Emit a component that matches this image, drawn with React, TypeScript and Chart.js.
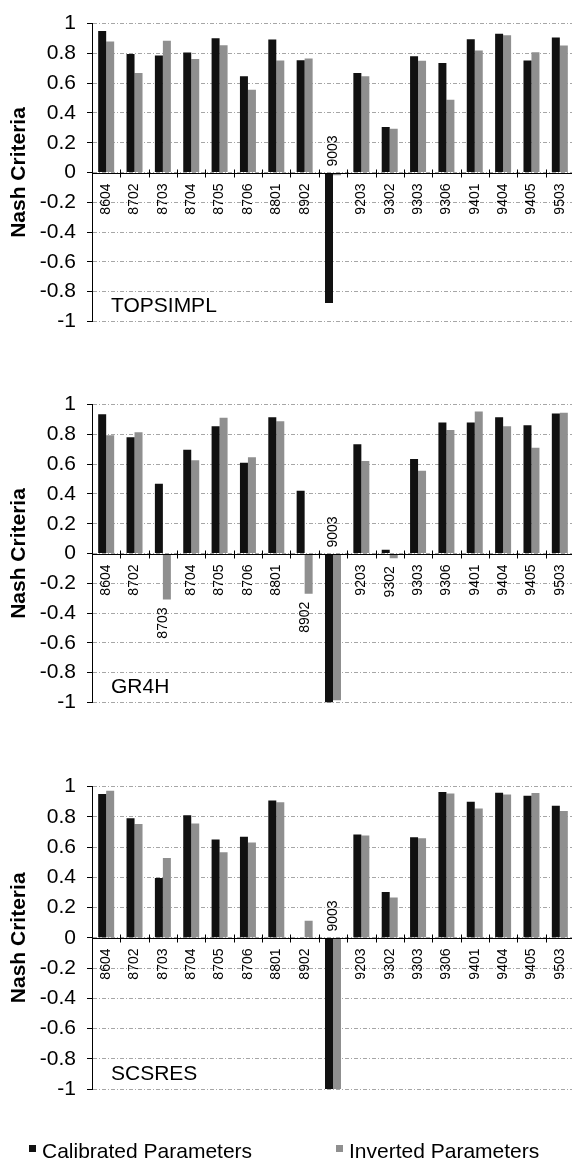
import React, { useEffect, useRef } from "react";
import { Chart, registerables } from "chart.js";

Chart.register(...registerables);

const categories = ["8604", "8702", "8703", "8704", "8705", "8706", "8801", "8902", "9003", "9203", "9302", "9303", "9306", "9401", "9404", "9405", "9503"];

const seriesNames = ["Calibrated Parameters", "Inverted Parameters"];

const topsimplCalibrated = [0.95, 0.795, 0.786, 0.806, 0.902, 0.647, 0.893, 0.754, -0.876, 0.669, 0.306, 0.78, 0.735, 0.895, 0.931, 0.752, 0.906];
const topsimplInverted = [0.88, 0.669, 0.885, 0.763, 0.855, 0.556, 0.752, 0.765, -0.018, 0.647, 0.293, 0.75, 0.489, 0.82, 0.921, 0.808, 0.853];

const gr4hCalibrated = [0.936, 0.781, 0.468, 0.696, 0.855, 0.609, 0.915, 0.421, -1.0, 0.734, 0.025, 0.634, 0.879, 0.879, 0.915, 0.862, 0.94];
const gr4hInverted = [0.794, 0.815, -0.309, 0.626, 0.911, 0.647, 0.889, -0.27, -0.985, 0.621, -0.032, 0.555, 0.83, 0.953, 0.855, 0.711, 0.945];

const scsresCalibrated = [0.951, 0.791, 0.395, 0.81, 0.65, 0.669, 0.908, 0.003, -1.0, 0.684, 0.303, 0.665, 0.964, 0.9, 0.959, 0.94, 0.874];
const scsresInverted = [0.972, 0.752, 0.528, 0.756, 0.566, 0.63, 0.897, 0.113, -1.0, 0.677, 0.267, 0.658, 0.955, 0.855, 0.947, 0.957, 0.838];

const panelTitles = ["TOPSIMPL", "GR4H", "SCSRES"];
const yAxisTitle = "Nash Criteria";

const FONT = '"Liberation Sans", Arial, Helvetica, sans-serif';
const BLACK = "#111111";
const GRAY = "#8f8f8f";

type PanelProps = {
  title: string;
  calibrated: number[];
  inverted: number[];
  top: number;
  height: number;
  padBottom: number;
  withLegend: boolean;
};

function Panel({ title, calibrated, inverted, top, height, padBottom, withLegend }: PanelProps) {
  const ref = useRef<HTMLCanvasElement | null>(null);

  useEffect(() => {
    const canvas = ref.current;
    if (!canvas) return;

    const annot = {
      id: "annot",
      afterDraw(chart: any) {
        const { ctx, chartArea: ca, scales } = chart;
        const x = scales.x;
        const y = scales.y;
        const y0 = Math.round(y.getPixelForValue(0)) + 0.5;
        ctx.save();
        ctx.setLineDash([]);
        ctx.strokeStyle = "#000";
        ctx.lineWidth = 1;
        ctx.beginPath();
        ctx.moveTo(ca.left, y0);
        ctx.lineTo(ca.right, y0);
        ctx.stroke();
        const n = categories.length;
        const w = (ca.right - ca.left) / n;
        ctx.beginPath();
        for (let i = 1; i <= n; i++) {
          const xx = Math.round(ca.left + i * w) + 0.5;
          ctx.moveTo(xx, y0 - 4);
          ctx.lineTo(xx, y0 + 4);
        }
        ctx.stroke();

        ctx.fillStyle = "#000";
        ctx.font = `14px ${FONT}`;
        ctx.textBaseline = "middle";
        categories.forEach((c, i) => {
          const xc = x.getPixelForValue(i);
          const vals = chart.data.datasets.map((d: any) => d.data[i] as number);
          const mn = Math.min(0, ...vals);
          ctx.save();
          if (mn < -0.5) {
            ctx.translate(xc, y0 - 7);
            ctx.rotate(-Math.PI / 2);
            ctx.textAlign = "left";
          } else {
            const bottom = y.getPixelForValue(mn);
            const t = Math.max(y0 + 10, bottom + 8);
            ctx.translate(xc, t);
            ctx.rotate(-Math.PI / 2);
            ctx.textAlign = "right";
          }
          ctx.fillText(c, 0, 0);
          ctx.restore();
        });

        ctx.font = `21px ${FONT}`;
        ctx.textAlign = "left";
        ctx.textBaseline = "middle";
        ctx.fillText(title, ca.left + 19, ca.bottom - 15);

        ctx.save();
        ctx.font = `bold 21px ${FONT}`;
        ctx.translate(19, (ca.top + ca.bottom) / 2);
        ctx.rotate(-Math.PI / 2);
        ctx.textAlign = "center";
        ctx.textBaseline = "middle";
        ctx.fillText(yAxisTitle, 0, 0);
        ctx.restore();

        if (withLegend) {
          const items = [
            { name: seriesNames[0], color: BLACK, x: 29 },
            { name: seriesNames[1], color: GRAY, x: 336 },
          ];
          const base = ca.bottom + 69;
          ctx.font = `21px ${FONT}`;
          ctx.textAlign = "left";
          ctx.textBaseline = "alphabetic";
          items.forEach((it) => {
            ctx.fillStyle = it.color;
            ctx.fillRect(it.x, base - 13, 7, 7);
            ctx.fillStyle = "#000";
            ctx.fillText(it.name, it.x + 13, base);
          });
        }
        ctx.restore();
      },
    };

    const chart = new Chart(canvas, {
      type: "bar",
      data: {
        labels: categories,
        datasets: [
          { label: seriesNames[0], data: calibrated, backgroundColor: BLACK, borderWidth: 0 },
          { label: seriesNames[1], data: inverted, backgroundColor: GRAY, borderWidth: 0 },
        ],
      },
      options: {
        responsive: false,
        animation: false,
        devicePixelRatio: 1,
        layout: { padding: { top: 14, bottom: padBottom, left: 0, right: 2 } },
        datasets: { bar: { categoryPercentage: 0.564, barPercentage: 1 } },
        plugins: { legend: { display: false }, tooltip: { enabled: false }, title: { display: false } },
        scales: {
          x: { type: "category", display: false, offset: true },
          y: {
            min: -1,
            max: 1,
            afterFit: (scale: any) => {
              scale.width = 92;
            },
            ticks: {
              stepSize: 0.2,
              padding: 11,
              color: "#000",
              font: { family: FONT, size: 21 },
              callback: (v: any) => String(Math.round(Number(v) * 10) / 10),
            },
            grid: {
              color: "#a6a6a6",
              lineWidth: 1,
              drawTicks: true,
              tickLength: 5,
              tickColor: "#000",
              tickBorderDash: [],
            },
            border: { display: true, color: "#000", width: 1, dash: [4, 2, 1, 2] },
          },
        },
      },
      plugins: [annot],
    } as any);

    return () => chart.destroy();
  }, [title, calibrated, inverted, padBottom, withLegend]);

  return (
    <canvas
      ref={ref}
      width={576}
      height={height}
      style={{ position: "absolute", left: 0, top, width: 576, height }}
    />
  );
}

export default function App() {
  return (
    <div
      style={{
        position: "absolute",
        left: 0,
        top: 0,
        width: 572,
        height: 1165,
        overflow: "hidden",
        background: "#fff",
      }}
    >
      <Panel title={panelTitles[0]} calibrated={topsimplCalibrated} inverted={topsimplInverted} top={0} height={345} padBottom={19} withLegend={false} />
      <Panel title={panelTitles[1]} calibrated={gr4hCalibrated} inverted={gr4hInverted} top={381} height={345} padBottom={19} withLegend={false} />
      <Panel title={panelTitles[2]} calibrated={scsresCalibrated} inverted={scsresInverted} top={763} height={402} padBottom={76} withLegend={true} />
    </div>
  );
}
